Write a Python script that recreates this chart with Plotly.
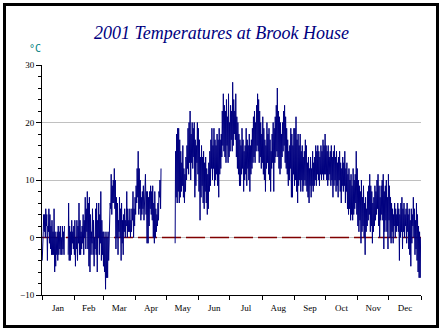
import pandas as pd
import plotly.graph_objects as go

# Daily maximum / minimum temperatures (°C) for 2001, one list per month.
# None marks days with no readings.
N = None
jan_max = [1, 4, 4, 5, 4, 2, 5, 4, 2, 3, 1, 5, 1, 0, 1, 2, 1, 2, 0, 2, 1, 2, N, N, N, 6, 2, 1, 3, 1, 2]
jan_min = [-4, 1, 1, 0, 2, -4, 1, -1, -2, -3, -3, -3, -6, -5, -3, -4, -3, -2, -3, -3, -2, -3, N, N, N, -3, -4, -4, -3, -1, -2]
feb_max = [3, 0, 3, 2, 6, 3, 1, 2, 4, 3, 7, 5, 8, 6, 7, 4, 1, 5, 3, 0, 5, 6, 3, 6, 4, 8, 3, 1]
feb_min = [-3, -5, -2, -4, -1, -3, -3, -2, -1, -3, 0, -2, 1, -2, -5, -6, -3, -1, -3, -5, -2, -3, -6, 0, -3, -1, -4, -3]
mar_max = [1, 0, 1, 0, 1, 0, 6, 11, 9, 10, 12, 10, 7, 6, 3, 7, 5, 6, 3, 4, 5, 3, 8, 5, 3, 5, 3, 5, 8, 5, 7]
mar_min = [-5, -6, -9, -7, -7, -4, -1, 5, 4, 6, 6, 5, -2, 0, -3, 1, 0, -4, -1, -3, 1, 0, 2, 0, 1, 1, 0, 1, 3, 0, 2]
apr_max = [9, 12, 15, 12, 10, 7, 8, 9, 6, 11, 8, 8, 7, 8, 9, 8, 9, 6, 8, 5, 4, 6, 8, 10, 12, N, N, N, N, N]
apr_min = [4, 6, 7, 4, 5, 3, 4, 5, 3, 5, 4, -1, -1, 2, 5, 4, 3, 0, -1, 0, 1, 2, 3, 7, 5, N, N, N, N, N]
may_max = [N, N, N, N, N, N, N, N, 15, 18, 19, 19, 17, 15, 13, 16, 12, 11, 14, 16, 19, 20, 22, 18, 20, 19, 20, 17, 16, 20, 19]
may_min = [N, N, N, N, N, N, N, N, -1, 7, 6, 8, 6, 7, 8, 9, 7, 6, 8, 10, 12, 11, 13, 10, 13, 12, 14, 7, 9, 13, 11]
jun_max = [17, 14, 16, 14, 15, 13, 14, 12, 11, 13, 15, 17, 19, 16, 19, 17, 16, 18, 17, 19, 17, 18, 22, 25, 23, 22, 24, 21, 25, 20]
jun_min = [8, 3, 7, 9, 6, 5, 8, 6, 4, 5, 8, 9, 12, 10, 12, 9, 10, 11, 9, 7, 11, 12, 14, 16, 15, 14, 13, 16, 13, 14]
jul_max = [23, 22, 27, 24, 22, 25, 21, 20, 18, 17, 16, 19, 17, 15, 16, 19, 17, 16, 18, 16, 17, 19, 21, 22, 20, 23, 25, 24, 22, 20, 18]
jul_min = [15, 17, 15, 16, 18, 17, 14, 12, 11, 9, 9, 11, 12, 8, 10, 11, 9, 12, 10, 8, 11, 12, 13, 14, 13, 15, 16, 15, 13, 14, 12]
aug_max = [21, 19, 17, 16, 20, 18, 19, 17, 15, 18, 20, 19, 21, 23, 26, 22, 21, 20, 18, 20, 22, 23, 21, 19, 17, 15, 16, 19, 18, 16, 19]
aug_min = [13, 11, 10, 8, 12, 13, 11, 10, 8, 12, 13, 8, 13, 14, 15, 14, 12, 11, 12, 14, 15, 16, 13, 12, 11, 9, 10, 12, 7, 7, 11]
sep_max = [19, 21, 17, 18, 16, 18, 15, 16, 14, 15, 17, 16, 13, 14, 12, 14, 12, 15, 13, 14, 16, 15, 16, 15, 14, 16, 15, 17, 16, 18]
sep_min = [9, 10, 8, 6, 9, 10, 8, 10, 8, 9, 10, 9, 8, 7, 6, 9, 7, 9, 8, 9, 10, 9, 11, 10, 9, 11, 10, 11, 10, 11]
oct_max = [16, 15, 16, 14, 15, 16, 14, 15, 16, 14, 15, 13, 14, 15, 13, 12, 14, 13, 15, 12, 13, 11, 12, 10, 11, 9, 12, 10, 11, 15, 12]
oct_min = [11, 10, 9, 10, 11, 9, 10, 7, 9, 10, 8, 9, 7, 10, 8, 6, 9, 8, 9, 6, 8, 5, 4, 5, 3, 4, 3, 4, 5, 6, 4]
nov_max = [10, 9, 8, 10, 7, 9, 6, 7, 5, 8, 9, 11, 9, 8, 6, 7, 9, 8, 10, 11, 9, 7, 9, 10, 11, 8, 9, 10, 7, 11]
nov_min = [2, 1, 3, -1, 1, 2, 0, -3, 1, 2, 3, 4, 1, 2, -1, 1, 2, 3, 4, 5, 2, 0, 3, 4, 3, -2, 1, 3, 1, -2]
dec_max = [9, 7, 6, 5, 4, 6, 5, 4, 6, 5, 4, 6, 7, 5, 6, 4, 5, 6, 4, 5, 3, 5, 4, 7, 5, 3, 6, 4, 2, 1, 0]
dec_min = [3, 0, -1, 1, -1, 2, 0, 1, 2, 1, -4, 0, 1, -2, 1, 0, 2, -1, 1, -2, -3, -5, -1, 2, 0, -3, -2, -4, -6, -7, -7]

month_max = [jan_max, feb_max, mar_max, apr_max, may_max, jun_max,
             jul_max, aug_max, sep_max, oct_max, nov_max, dec_max]
month_min = [jan_min, feb_min, mar_min, apr_min, may_min, jun_min,
             jul_min, aug_min, sep_min, oct_min, nov_min, dec_min]

tmax = [v for m in month_max for v in m]
tmin = [v for m in month_min for v in m]

# Readings: overnight low then afternoon high for each day
start = pd.Timestamp("2001-01-01")
times, temps = [], []
for i, (lo, hi) in enumerate(zip(tmin, tmax)):
    day = start + pd.Timedelta(days=i)
    times += [day + pd.Timedelta(hours=5), day + pd.Timedelta(hours=15)]
    temps += [lo, hi]

year_end = pd.Timestamp("2002-01-01")

fig = go.Figure()

# Freezing-point reference line
fig.add_trace(go.Scatter(
    x=[start, year_end], y=[0, 0], mode="lines",
    line=dict(color="#800000", width=1.5, dash="19px,5px"),
    hoverinfo="skip",
))

fig.add_trace(go.Scatter(
    x=times, y=temps, mode="lines",
    line=dict(color="#000080", width=1),
    connectgaps=False,
))

L, R, T, B = 42, 22, 65, 37
W, H = 443, 332
pw, ph = W - L - R, H - T - B


def px_x(p):
    return (p - L) / pw


def px_y(p):
    return (H - B - p) / ph


tick_font = dict(family="Liberation Serif", size=9, color="black")

fig.update_layout(
    width=W, height=H,
    margin=dict(l=L, r=R, t=T, b=B),
    paper_bgcolor="white", plot_bgcolor="white",
    showlegend=False,
    title=dict(
        text="<i>2001 Temperatures at Brook House</i>",
        x=0.5, xref="container", xanchor="center",
        y=1 - 33 / H, yref="container", yanchor="middle",
        font=dict(family="Liberation Serif", size=18, color="#000080"),
    ),
    xaxis=dict(
        type="date",
        range=[start, year_end],
        tick0="2001-01-01", dtick="M1",
        tickformat="%b", ticklabelmode="period",
        ticks="outside", ticklen=4, tickcolor="black", tickwidth=1,
        showline=True, linecolor="black", linewidth=1,
        showgrid=False, zeroline=False,
        tickfont=tick_font,
    ),
    yaxis=dict(
        range=[-10, 30],
        tickvals=[-10, 0, 10, 20, 30],
        ticks="outside", ticklen=5, tickcolor="black", tickwidth=1,
        showline=True, linecolor="black", linewidth=1,
        showgrid=True, gridcolor="#c0c0c0", gridwidth=1,
        zeroline=False,
        minor=dict(dtick=2, tick0=0, ticks="outside", ticklen=3,
                   tickcolor="black", showgrid=False),
        tickfont=tick_font,
    ),
    annotations=[dict(
        text="°C", xref="paper", yref="paper",
        x=px_x(35), y=px_y(49), xanchor="center", yanchor="middle",
        showarrow=False,
        font=dict(family="DejaVu Sans Mono", size=10, color="#008080"),
    )],
    shapes=[dict(
        type="rect", xref="paper", yref="paper",
        x0=px_x(4.5), x1=px_x(437.5), y0=px_y(326.5), y1=px_y(4.5),
        line=dict(color="black", width=3), fillcolor="rgba(0,0,0,0)",
    )],
)

fig.write_html("out.html")
